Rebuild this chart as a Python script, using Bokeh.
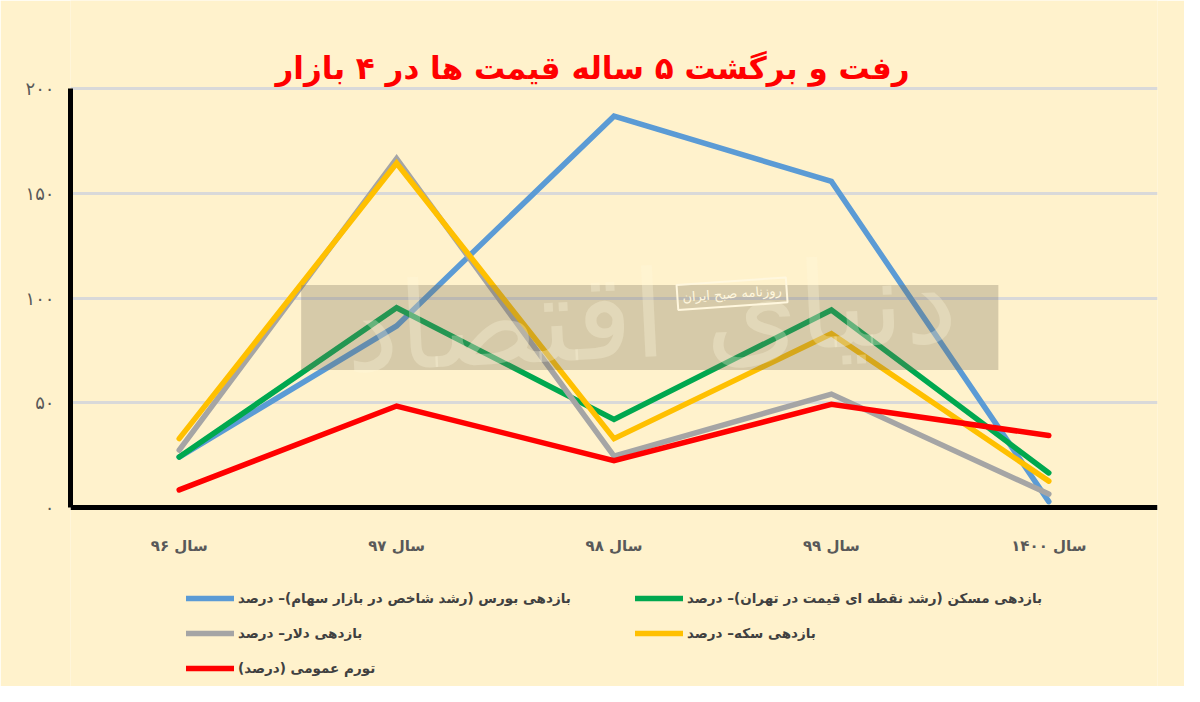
from bokeh.plotting import figure
from bokeh.models import Range1d, FactorRange, FixedTicker, Legend, LegendItem, Label, BoxAnnotation
from bokeh.embed import file_html
from bokeh.resources import INLINE

# ---------------- data ----------------
years = ["سال ۹۶", "سال ۹۷", "سال ۹۸", "سال ۹۹", "سال ۱۴۰۰"]

bourse = [24.0, 86.7, 187.0, 155.8, 2.7]
housing = [24.0, 95.4, 42.0, 94.3, 16.4]
dollar = [27.3, 166.7, 24.5, 54.1, 6.3]
coin = [32.8, 164.5, 32.8, 83.0, 12.5]
inflation = [8.3, 48.4, 22.3, 49.2, 34.3]

series_names = [
    "بازدهی بورس (رشد شاخص در بازار سهام)– درصد",
    "بازدهی مسکن (رشد نقطه ای قیمت در تهران)– درصد",
    "بازدهی دلار– درصد",
    "بازدهی سکه– درصد",
    "تورم عمومی (درصد)\u200f",
]
series_values = [bourse, housing, dollar, coin, inflation]
series_colors = ["#5B9BD5", "#00A84F", "#A5A5A5", "#FFC000", "#FF0000"]

y_ticks = [0, 50, 100, 150, 200]
y_tick_labels = ["۰", "۵۰", "۱۰۰", "۱۵۰", "۲۰۰"]

title_text = "رفت و برگشت ۵ ساله قیمت ها در ۴ بازار"
watermark_small = "روزنامه صبح ایران"
watermark_big = "دنیای اقتصاد"

FONT = "DejaVu Sans"
BG = "#FFF2CC"

# ---------------- figure ----------------
# the frame covers the full height; the value axis is bounded to 0..200
p = figure(
    width=1184, height=686,
    x_range=FactorRange(*years, range_padding=0),
    y_range=Range1d(-85.7, 242.3),
    output_backend="svg", toolbar_location=None,
    min_border_left=70, min_border_right=27,
    min_border_top=0, min_border_bottom=0,
    background_fill_color=BG, border_fill_color=BG,
    outline_line_color=None,
)

# axes
p.yaxis.ticker = FixedTicker(ticks=y_ticks)
p.yaxis.bounds = (0, 200)
p.yaxis.major_label_overrides = {t: l for t, l in zip(y_ticks, y_tick_labels)}
p.yaxis.axis_line_width = 5
p.yaxis.axis_line_color = "black"
p.yaxis.major_tick_line_color = None
p.yaxis.minor_tick_line_color = None
p.yaxis.major_label_text_font = FONT
p.yaxis.major_label_text_font_size = "18px"
p.yaxis.major_label_text_color = "#595959"
p.yaxis.major_label_standoff = 10

p.xaxis.fixed_location = 0
p.xaxis.axis_line_width = 5
p.xaxis.axis_line_color = "black"
p.xaxis.major_tick_line_color = None
p.xaxis.minor_tick_line_color = None
p.xaxis.major_label_text_font = FONT
p.xaxis.major_label_text_font_size = "15px"
p.xaxis.major_label_text_font_style = "bold"
p.xaxis.major_label_text_color = "#595959"
p.xaxis.major_label_standoff = 24

p.xgrid.grid_line_color = None
p.ygrid.ticker = FixedTicker(ticks=y_ticks[1:])
p.ygrid.grid_line_color = "#D9D9D9"
p.ygrid.grid_line_width = 3

# lines
renderers = []
for vals, col in zip(series_values, series_colors):
    r = p.line(x=years, y=vals, line_color=col, line_width=5.5,
               line_cap="round", line_join="miter")
    renderers.append(r)

# watermark
p.add_layout(BoxAnnotation(left=1.061, right=4.268, bottom=65.65, top=106.3,
                           fill_color="#766D5B", fill_alpha=0.3, line_color=None))
p.add_layout(Label(x=2.67, y=92, text=watermark_big, text_font=FONT,
                   text_font_size="120px", text_color="#FFF7DE", text_alpha=0.3,
                   text_align="center", text_baseline="middle", angle=0.05))
p.add_layout(Label(x=3.043, y=102.1, text=watermark_small, text_font=FONT,
                   text_font_size="13px", text_color="#FFF7DE",
                   text_align="center", text_baseline="middle", angle=0.07,
                   border_line_color="#FFF7DE", border_line_width=2,
                   padding=5))

# title
p.add_layout(Label(x=522, y=619, x_units="screen", y_units="screen",
                   text=title_text, text_font=FONT, text_font_size="31px",
                   text_font_style="bold", text_color="#FF0000",
                   text_align="center", text_baseline="middle"))

# legends
def make_legend(idx, loc):
    return Legend(
        items=[LegendItem(label=series_names[i], renderers=[renderers[i]]) for i in idx],
        location=loc, orientation="vertical",
        background_fill_alpha=0, border_line_color=None,
        padding=0, margin=0, spacing=15,
        glyph_width=48, glyph_height=20, label_height=20, label_standoff=4,
        label_text_font=FONT, label_text_font_style="bold",
        label_text_font_size="13.5px", label_text_color="#404040",
    )

p.add_layout(make_legend([0, 2, 4], (116, 8)))
p.add_layout(make_legend([1, 3], (565, 43)))

open("out.html", "w").write(file_html(p, INLINE))
